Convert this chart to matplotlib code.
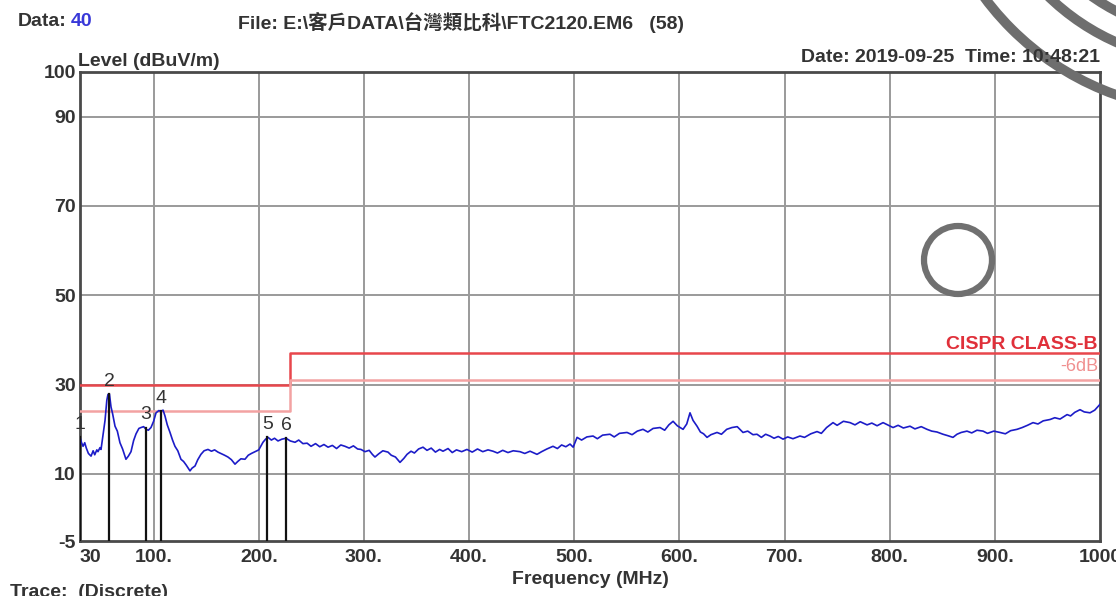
import matplotlib
matplotlib.use("Agg")
import matplotlib.pyplot as plt
from matplotlib.patches import Circle

# ---------------- data ----------------
freq = [30, 31.5, 32.9, 34.5, 36, 38, 40.5, 42.5, 44, 46, 47.1, 49, 50, 52, 53.8, 55.5,
        56.6, 58, 59.5, 61, 63.3, 65.5, 68, 70.5, 73.7, 76, 78.5, 81, 83.3, 86, 88, 90.5,
        92.8, 95, 97.5, 100, 102.3, 105, 107, 109, 110.8, 113, 115.6, 118, 120.3, 123,
        126, 128.5, 131, 134.6, 136.5, 139.4, 142, 145, 148, 151.7, 155, 158, 161.2, 164,
        167.5, 170.7, 174, 177.4, 180, 183, 186.9, 190, 193, 196.4, 200, 204, 206.5,
        208.8, 212, 215, 218.3, 222, 226, 230, 234.5, 238, 242, 246, 249.7, 254, 258,
        262, 265.9, 270, 274, 278, 282, 286, 290, 294, 297.2, 301, 305, 308, 310.5, 314,
        318, 322.9, 326, 330, 334.3, 338, 341, 344.8, 348, 352, 356.2, 360, 364, 368,
        372, 375.2, 380, 384, 388, 393, 398, 403, 408, 413, 418, 422.8, 427, 432, 437,
        442, 448.4, 453, 458, 464.6, 469, 474, 479.8, 484, 488, 492, 496, 499, 502.7,
        507, 512, 517.9, 522, 527, 534, 538, 543, 550.2, 555, 560, 565.4, 570, 575,
        581.6, 586, 590, 594, 598, 603.5, 607, 610.1, 613, 616.8, 620, 623, 626.3, 630,
        635.8, 640, 645, 650, 655, 660.5, 665, 670, 673.8, 678, 682, 686.2, 690, 694,
        698.6, 703, 708, 714.7, 719, 725, 730.9, 735, 740, 746.1, 750, 756, 762.3, 767,
        772, 778.5, 783, 788, 793.7, 798, 803.2, 808, 813, 819.3, 824, 830, 835.5, 840,
        845, 850.7, 855, 860.2, 864, 868, 873.5, 878, 883, 888.8, 893, 899, 904.9, 910,
        915, 921.1, 926, 931, 936.3, 941, 946, 952.5, 957, 962, 968.7, 972, 976, 981,
        985, 990.5, 995, 1000]
level = [18.2, 17.0, 16.2, 17.0, 15.8, 14.6, 14.0, 15.2, 14.3, 15.4, 15.0, 15.9, 15.5,
         19.0, 22.0, 26.5, 27.8, 27.9, 25.0, 23.5, 20.7, 19.6, 17.0, 15.6, 13.3, 14.0,
         15.0, 17.5, 19.0, 20.2, 20.4, 20.6, 20.0, 19.8, 20.4, 21.8, 23.7, 24.2, 24.0,
         24.3, 23.0, 21.0, 19.3, 17.6, 16.2, 15.2, 13.3, 12.8, 12.0, 10.7, 11.3, 11.8,
         13.2, 14.4, 15.2, 15.5, 15.1, 15.4, 14.9, 14.6, 14.2, 13.8, 13.2, 12.2, 12.8,
         13.4, 13.3, 14.2, 14.6, 15.0, 15.4, 17.1, 17.8, 18.2, 17.6, 18.0, 17.4, 17.8,
         18.0, 17.4, 17.1, 17.6, 16.8, 16.9, 16.2, 16.8, 16.1, 16.6, 16.0, 16.4, 15.7,
         16.5, 16.2, 15.8, 16.3, 15.6, 15.5, 15.0, 15.3, 14.4, 13.8, 14.5, 15.2, 14.9,
         14.2, 13.8, 12.6, 13.5, 14.4, 15.1, 14.7, 15.6, 16.0, 15.3, 15.8, 14.9, 15.5,
         15.1, 15.7, 14.8, 15.4, 15.0, 15.5, 14.9, 15.6, 15.0, 15.4, 15.1, 14.7, 15.3,
         14.8, 15.2, 15.0, 14.6, 15.1, 14.4, 15.0, 15.6, 16.2, 15.7, 16.5, 16.1, 16.7,
         16.0, 18.2, 17.6, 18.3, 18.5, 17.9, 18.7, 18.9, 18.3, 19.1, 19.3, 18.8, 19.6,
         20.0, 19.4, 20.2, 20.4, 19.8, 21.0, 21.8, 20.8, 20.0, 21.2, 23.7, 22.0, 20.7,
         19.4, 19.0, 18.2, 18.8, 19.3, 18.9, 20.0, 20.4, 20.6, 19.3, 19.6, 18.8, 18.9,
         18.2, 18.9, 18.5, 18.0, 18.4, 17.8, 18.3, 17.9, 18.5, 18.2, 19.0, 19.5, 19.1,
         20.4, 21.5, 20.9, 21.8, 21.5, 21.0, 21.7, 21.0, 21.4, 20.8, 21.5, 21.0, 20.4,
         20.9, 20.3, 20.7, 20.1, 20.6, 20.0, 19.6, 19.4, 18.9, 18.6, 18.2, 18.9, 19.3,
         19.6, 19.2, 19.8, 19.6, 19.1, 19.6, 19.3, 19.0, 19.7, 20.0, 20.4, 20.9, 21.5,
         21.2, 21.9, 22.2, 22.6, 22.3, 23.3, 23.0, 23.8, 24.4, 23.9, 23.7, 24.3, 25.6]

limit_freq = [30, 230, 230, 1000]
limit_level = [30, 30, 37, 37]
limit6_level = [24, 24, 31, 31]

marker_ids = ["1", "2", "3", "4", "5", "6"]
marker_freq = [30, 58, 92.5, 107, 208, 226]
marker_level = [18.2, 27.8, 20.4, 24.1, 18.2, 18.0]

yticks = [-5, 10, 30, 50, 70, 90, 100]
xticks = [30, 100, 200, 300, 400, 500, 600, 700, 800, 900, 1000]
xticklabels = ["30", "100.", "200.", "300.", "400.", "500.", "600.", "700.", "800.",
               "900.", "1000"]

# ---------------- style ----------------
FAM = ["Liberation Sans", "Noto Sans CJK TC", "DejaVu Sans"]
plt.rcParams["font.family"] = FAM
TXT = "#333333"
W, H = 1116, 596

fig = plt.figure(figsize=(W / 100, H / 100), dpi=100)
fig.patch.set_facecolor("white")

L, R, T, B = 80, 1100, 72, 541
ax = fig.add_axes([L / W, 1 - B / H, (R - L) / W, (B - T) / H])
ax.set_xlim(30, 1000)
ax.set_ylim(-5, 100)

# grid
for v in [100, 200, 300, 400, 500, 600, 700, 800, 900]:
    ax.axvline(v, color="#9a9a9a", lw=1.4, zorder=1)
for v in [10, 30, 50, 70, 90]:
    ax.axhline(v, color="#9a9a9a", lw=1.4, zorder=1)

for s in ax.spines.values():
    s.set_color("#4a4a4a")
    s.set_linewidth(2.0)

ax.set_yticks(yticks)
ax.set_yticklabels([str(v) for v in yticks])
ax.set_xticks(xticks)
ax.set_xticklabels(xticklabels)
ax.tick_params(length=0, labelsize=14, colors=TXT, pad=3)
for lab in ax.get_yticklabels() + ax.get_xticklabels():
    lab.set_fontweight("bold")
ax.get_xticklabels()[0].set_horizontalalignment("left")
ax.tick_params(axis="x", pad=6)

# limit lines
ax.plot(limit_freq, limit_level, color="#e8464c", lw=1.8, zorder=3)
ax.plot(limit_freq, limit6_level, color="#f3a2a2", lw=1.8, zorder=3)
ax.text(998, 37, "CISPR CLASS-B", color="#e0303a", fontsize=14, fontweight="bold",
        ha="right", va="bottom", zorder=5)
ax.annotate("-6dB", xy=(998, 31), xytext=(0, 4), textcoords="offset points",
            color="#f09090", fontsize=13, ha="right", va="bottom", zorder=5)

# trace
ax.plot(freq, level, color="#1c1cc8", lw=1.2, zorder=4)

# markers
for mid, mf, ml in zip(marker_ids, marker_freq, marker_level):
    ax.plot([mf, mf], [-5, ml], color="#111111", lw=1.6, zorder=5)
    ax.annotate(mid, xy=(mf, ml), xytext=(0, 3), textcoords="offset points",
                ha="center", va="bottom", fontsize=14, color=TXT, zorder=6)

# ---------------- overlay (pixel coordinates) ----------------
ov = fig.add_axes([0, 0, 1, 1], zorder=10)
ov.set_xlim(0, W)
ov.set_ylim(H, 0)
ov.axis("off")
ov.patch.set_alpha(0)

ov.text(18, 22, "Data:", fontsize=14, fontweight="bold", color=TXT, va="center", ha="left")
ov.text(71, 22, "40", fontsize=14, fontweight="bold", color="#3838d8", va="center", ha="left")
ov.text(238, 22, "File: E:\\客戶DATA\\台灣類比科\\FTC2120.EM6   (58)", fontsize=14,
        fontweight="bold", color=TXT, va="center", ha="left", family=FAM)
ov.text(78, 61, "Level (dBuV/m)", fontsize=14, fontweight="bold", color=TXT,
        va="center", ha="left")
ov.text(1100, 57, "Date: 2019-09-25  Time: 10:48:21", fontsize=14, fontweight="bold",
        color=TXT, va="center", ha="right")
ov.text(590, 580, "Frequency (MHz)", fontsize=14, fontweight="bold", color=TXT,
        va="center", ha="center")
ov.text(10, 584, "Trace:  (Discrete)", fontsize=14, fontweight="bold", color=TXT,
        va="top", ha="left")

# scan artefacts: circle and arcs
ov.add_patch(Circle((958, 260), 34, fill=False, lw=4.5, ec="#707070"))
for r in [281, 232, 204]:
    ov.add_patch(Circle((1210, -170), r, fill=False, lw=7, ec="#6e6e6e"))

fig.savefig("out.png", dpi=100, facecolor="white")
